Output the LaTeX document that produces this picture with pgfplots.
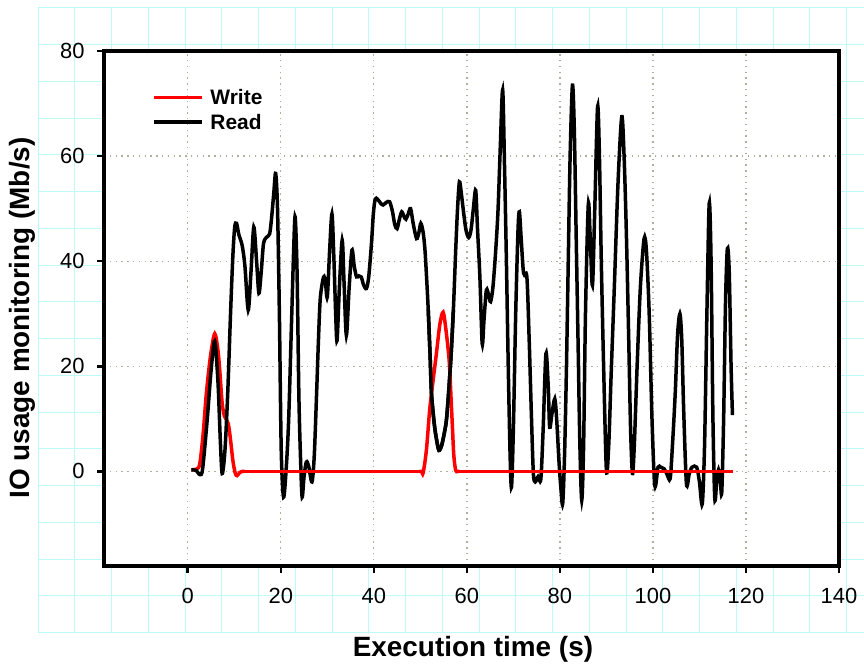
\documentclass[border=0pt]{standalone}
\usepackage{fontspec}
\setmainfont{Liberation Sans}
\usepackage{pgfplots}
\pgfplotsset{compat=1.18}
\definecolor{papergrid}{RGB}{190,250,250}
\definecolor{dotgrid}{RGB}{175,175,160}
\begin{document}
\begin{tikzpicture}
\useasboundingbox (0bp,0bp) rectangle (864bp,669bp);
\fill[white] (0bp,0bp) rectangle (864bp,669bp);
\foreach \k in {0,...,22} \draw[papergrid, line width=1bp] ({(38+36.75*\k)*1bp},36bp) -- ({(38+36.75*\k)*1bp},661bp);
\foreach \k in {0,...,17} \draw[papergrid, line width=1bp] (38bp,{(661-36.75*\k)*1bp}) -- (864bp,{(661-36.75*\k)*1bp});
\begin{axis}[
  at={(104bp,103bp)}, anchor=south west,
  scale only axis, width=735bp, height=515bp,
  xmin=-18, xmax=140, ymin=-18, ymax=80,
  xtick={0,20,...,140}, ytick={0,20,...,80},
  axis background/.style={fill=white},
  axis line style={line width=3.8bp},
  tick style={line width=2.5bp, black},
  major tick length=7bp,
  tick align=outside, tick pos=left,
  grid=major,
  major grid style={dotgrid, line width=1.3bp, dash pattern=on 1.3bp off 4.5bp},
  /pgf/number format/assume math mode=true,
  tick label style={font=\fontsize{22}{22}\selectfont},
  xticklabel style={yshift=-12bp},
  yticklabel style={xshift=-9bp},
  label style={font=\bfseries\fontsize{28}{28}\selectfont},
  xlabel={Execution time (s)},
  ylabel={IO usage monitoring (Mb/s)},
  xlabel style={at={(axis description cs:0.502,-0.161)}, anchor=center},
  ylabel style={at={(axis description cs:-0.1116,0.4816)}, anchor=center},
  legend style={draw=none, fill=none, at={(0.065,0.93)}, anchor=north west,
    font=\bfseries\fontsize{21}{21}\selectfont, row sep=4bp, inner sep=0pt},
  legend cell align=left,
  legend image code/.code={\draw[#1, line width=3.5bp] (0bp,0bp) -- (48bp,0bp); \path (53bp,0bp);},
]
\addplot[red, line width=3.5bp, smooth, tension=0.5] coordinates {
(0.8,0.3) (2.0,0.5) (2.6,1.5) (3.3,7) (4.0,14.8) (4.9,22) (5.8,26.2) (6.5,23) (6.9,19) (7.4,13) (7.9,10.5) (8.7,9.1) (9.2,6) (9.7,2.1) (10.2,-0.3) (10.6,-0.8) (11.2,-0.2) (11.7,0) (12.2,0)
};
\addlegendentry{Write}
\addplot[black, line width=3.5bp, smooth, tension=0.5] coordinates {
(0.8,0.3) (1.8,0.2) (2.6,-0.6) (3.2,0.5) (4.2,10) (5.0,19) (5.8,24.8) (6.5,17) (7.0,6) (7.4,-0.4) (8.0,4) (8.6,15) (9.2,30) (9.7,41) (10.1,46.5) (10.5,47.2) (11.0,45) (11.7,43) (12.3,39) (13.0,30.7) (13.6,38) (14.2,46.5) (14.8,40) (15.3,33.9) (15.8,38) (16.3,43.4) (17.0,44.6) (17.6,45.2) (18.0,48) (18.5,53) (18.9,56.7) (19.3,50) (19.7,30) (20.1,4) (20.6,-4.9) (21.2,1) (21.7,10) (22.3,28) (22.8,43) (23.1,48.4) (23.5,38) (23.9,14) (24.3,1) (24.6,-4.9) (25.0,-1) (25.5,1.8) (26.0,1) (26.7,-2) (27.2,3) (27.7,14.8) (28.1,25) (28.5,33) (29.2,37) (29.6,36) (30.0,33.2) (30.5,42) (31.0,49) (31.4,41) (31.8,30) (32.1,24.9) (32.6,35) (33.2,44) (33.6,36) (34.1,25.9) (34.7,35) (35.3,42.1) (35.8,39) (36.3,37) (36.8,37.2) (37.3,37) (37.8,35.5) (38.4,34.8) (38.9,37) (39.5,43.4) (39.9,49) (40.3,51.8) (40.8,51.8) (41.5,51) (42.0,50.7) (42.7,51.2) (43.4,51.3) (44.0,49.5) (44.5,47) (45.0,46.2) (45.5,48) (46.0,49.4) (46.5,48.5) (46.9,48) (47.4,49) (47.9,50) (48.5,47) (49.2,44.3) (49.7,45.5) (50.1,47.2) (50.6,45.5) (51.0,42.1) (51.4,36) (51.7,30.7) (52.1,22) (52.4,14.8) (53.0,9) (53.5,6) (54.0,4) (54.6,5) (55.2,7.5) (55.6,9.7) (56.0,14) (56.6,22) (57.1,30.7) (57.6,42) (58.0,50) (58.4,55.1) (58.8,53) (59.2,50) (59.8,46) (60.4,44.5) (60.9,46) (61.4,50) (61.9,53.5) (62.3,46) (62.8,37) (63.3,24.3) (63.7,29) (64.2,34.5) (64.7,33.5) (65.1,32.3) (65.6,35) (66.2,42) (66.7,49.7) (67.2,62) (67.7,72.6) (68.1,58) (68.5,40.2) (68.9,20) (69.3,3) (69.6,-3) (70.0,8) (70.5,30) (71.0,46) (71.3,49.4) (71.7,44) (72.2,37.7) (72.9,37) (73.4,25) (73.9,10) (74.3,-0.4) (74.7,-2) (75.3,-1) (75.9,-1.5) (76.4,8) (77.0,22.4) (77.5,16) (77.8,8.4) (78.3,11) (78.9,13.8) (79.3,10) (79.8,2) (80.2,-3) (80.6,-6.2) (81.0,3) (81.4,19.2) (81.8,40) (82.2,60) (82.7,73.5) (83.1,65) (83.5,45) (83.9,25) (84.3,5) (84.7,-5.5) (85.1,5) (85.5,30) (86.1,50.7) (86.5,45) (87.0,35.4) (87.5,50) (88.1,69.4) (88.5,60) (88.9,40) (89.4,20) (90.0,0.2) (90.5,5) (91.0,18) (91.7,35) (92.5,55) (93.3,67.5) (93.8,60) (94.3,45) (94.8,25) (95.2,8) (95.6,-0.4) (96.0,5) (96.6,20) (97.3,35) (98.1,44.3) (98.6,42) (99.2,30) (99.8,10) (100.4,-2.7) (101.1,0.8) (101.7,0.8) (102.4,0.5) (103.0,-0.5) (103.7,-1.4) (104.2,5) (104.8,15) (105.3,26) (105.8,30) (106.2,25) (106.6,12) (107.2,-2.3) (107.8,-0.5) (108.4,0.8) (109.4,0.8) (110.0,-2) (110.6,-6.2) (111.1,5) (111.6,30) (112.1,51) (112.5,40) (112.9,10) (113.3,-5.2) (113.7,-2) (114.1,0.3) (114.5,-2) (114.8,-3.9) (115.2,10) (115.6,32) (116.0,42.4) (116.4,38) (116.8,20) (117.1,10.7)
};
\addlegendentry{Read}
\addplot[red, line width=3.5bp, forget plot] coordinates {(12.0,0) (50.2,0)};
\addplot[red, line width=3.5bp, smooth, tension=0.5, forget plot] coordinates {
(49.8,0) (50.3,0) (50.6,-0.3) (51.3,4) (52.0,11.6) (52.7,17) (53.4,22) (54.2,28) (54.9,30.3) (55.5,27) (56.2,21.1) (56.6,14) (56.9,8.4) (57.2,3) (57.6,0.2) (58,0) (58.4,0)
};
\addplot[red, line width=3.5bp, forget plot] coordinates {(58.2,0) (117.2,0)};
\addplot[black, line width=3.5bp, smooth, tension=0.5, forget plot] coordinates {
(51.7,30.7) (52.1,22) (52.4,14.8) (53.0,9) (53.5,6) (54.0,4) (54.6,5) (55.2,7.5) (55.6,9.7) (56.0,14) (56.6,22) (57.1,30.7)
};
\end{axis}
\end{tikzpicture}
\end{document}
